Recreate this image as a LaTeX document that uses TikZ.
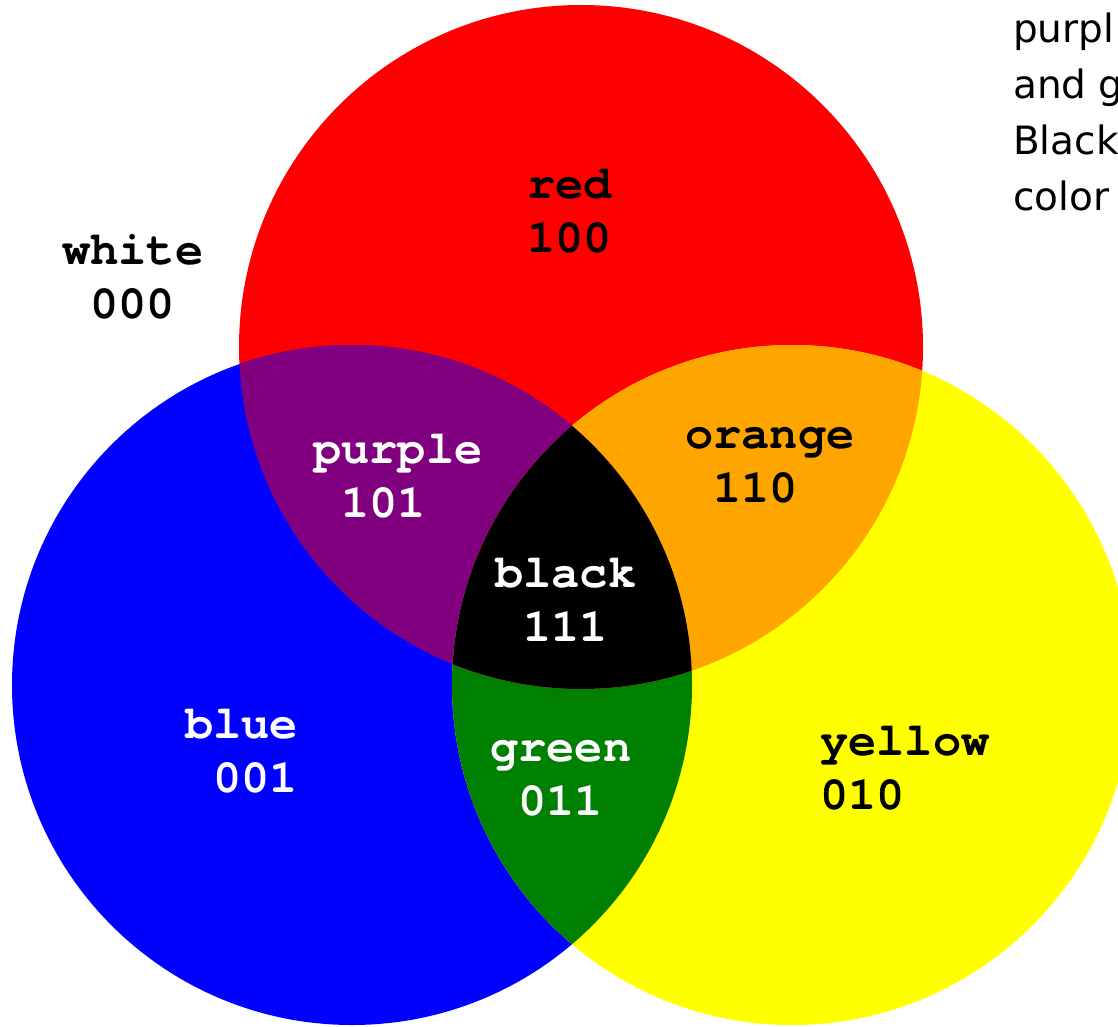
\documentclass[tikz,border=0pt]{standalone}
\usepackage{fontspec}
\newfontfamily\labfont{TeX Gyre Cursor}
\newfontfamily\notefont{DejaVu Sans}
\definecolor{cred}{HTML}{FF0000}
\definecolor{cblue}{HTML}{0000FF}
\definecolor{cyellow}{HTML}{FFFF00}
\definecolor{cpurple}{HTML}{800080}
\definecolor{corange}{HTML}{FFA500}
\definecolor{cgreen}{HTML}{008000}
\tikzset{
  lab/.style={font=\labfont\bfseries\fontsize{47}{54}\selectfont, align=left, inner sep=0pt, anchor=base west},
  darklab/.style={lab, text=black},
  lightlab/.style={lab, text=white},
  note/.style={font=\notefont\fontsize{39}{56}\selectfont, inner sep=0pt, anchor=base west, text=black}
}
\def\circR{(581,347) circle [radius=342pt]}
\def\circB{(352,685) circle [radius=340pt]}
\def\circY{(792,685) circle [radius=340pt]}
\newcommand{\onesp}{\phantom{0}}
\begin{document}
\begin{tikzpicture}[x=1pt,y=-1pt]
\useasboundingbox (0,0) rectangle (1118,1027);
\clip (0,0) rectangle (1118,1027);
\fill[white] (0,0) rectangle (1118,1027);
% circles
\fill[cred] \circR;
\fill[cblue] \circB;
\fill[cyellow] \circY;
\begin{scope}
  \clip \circB;
  \fill[cgreen] \circY;
\end{scope}
\begin{scope}
  \clip \circR;
  \fill[cpurple] \circB;
  \fill[corange] \circY;
  \clip \circB;
  \fill[black] \circY;
\end{scope}
% labels (base anchor = baseline of the last line)
\node[darklab]  (red)    at (527,252) {red\\100};
\node[darklab]  (white)  at (62,318)  {white\\\onesp000};
\node[lightlab] (purple) at (313,517) {purple\\\onesp101};
\node[darklab]  (orange) at (685,502) {orange\\\onesp110};
\node[lightlab] (black)  at (495,641) {black\\\onesp111};
\node[lightlab] (blue)   at (185,792) {blue\\\onesp001};
\node[lightlab] (green)  at (490,815) {green\\\onesp011};
\node[darklab]  (yellow) at (820,809) {yellow\\010};
% note text (cut off at the right edge)
\node[note] (n1) at (1013,43)  {purpl};
\node[note] (n2) at (1013,99)  {and g};
\node[note] (n3) at (1013,155) {Black};
\node[note] (n4) at (1013,211) {color};
\end{tikzpicture}
\end{document}
